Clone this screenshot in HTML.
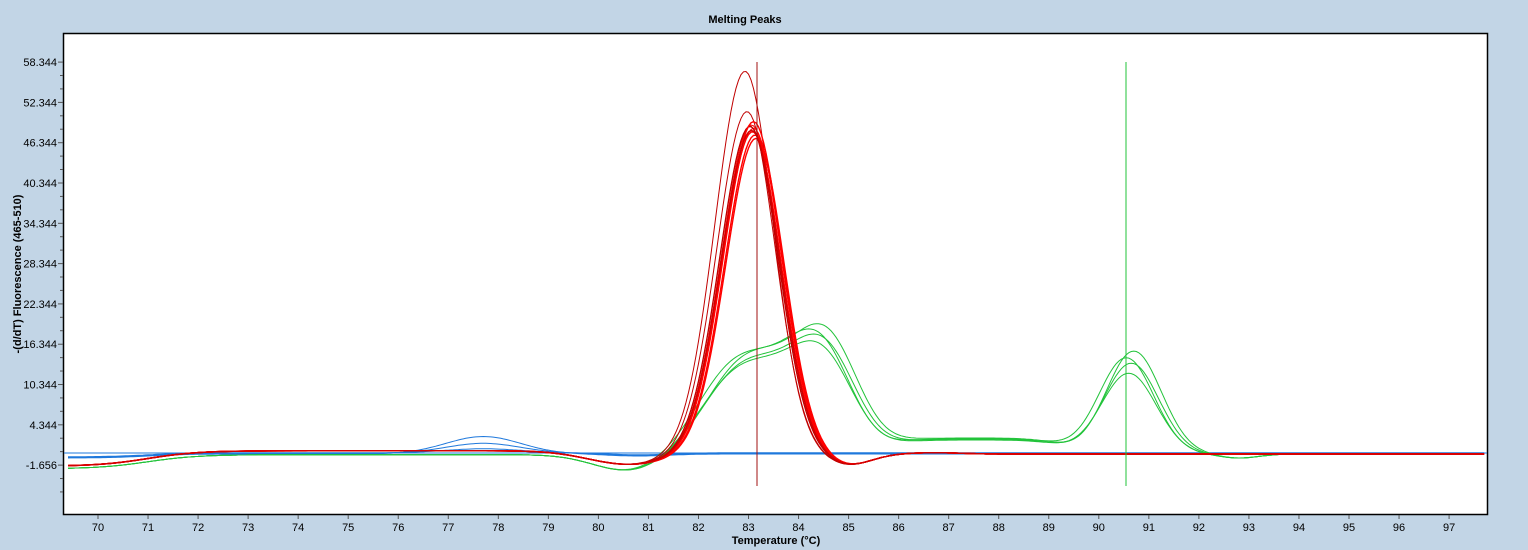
<!DOCTYPE html>
<html><head><meta charset="utf-8"><style>
html,body{margin:0;padding:0;background:#c2d5e6;}
svg{display:block;font-family:"Liberation Sans",sans-serif;}
</style></head><body>
<svg id="s" width="1528" height="550" xmlns="http://www.w3.org/2000/svg">
<rect x="0" y="0" width="1528" height="550" fill="#c2d5e6"/>
<text x="745" y="23" font-size="11" font-weight="bold" text-anchor="middle">Melting Peaks</text>
<rect x="63.5" y="33.5" width="1424" height="481" fill="#fff" stroke="#000" stroke-width="1.5"/>
<g id="ticks"></g>
<g id="curves" fill="none" stroke-width="1"></g>
<text x="776" y="544" font-size="11" font-weight="bold" text-anchor="middle">Temperature (°C)</text>
<text transform="translate(21,274) rotate(-90)" font-size="11" font-weight="bold" text-anchor="middle">-(d/dT) Fluorescence (465-510)</text>
</svg>
<script>
var NS="http://www.w3.org/2000/svg";
function X(t){return 98+(t-70)*50.04;}
function Y(v){return 454-6.717*v;}
function el(p,tag,a,txt){var e=document.createElementNS(NS,tag);for(var k in a)e.setAttribute(k,a[k]);if(txt!=null)e.textContent=txt;p.appendChild(e);return e;}
var tk=document.getElementById('ticks');
for(var i=0;i<=10;i++){var v=58.344-6*i;var y=Y(v);
 el(tk,'line',{x1:58,x2:63,y1:y,y2:y,stroke:'#555'});
 el(tk,'text',{x:57,y:y+4,'font-size':11,'text-anchor':'end'},v.toFixed(3));
 for(var j=1;j<3;j++){var yy=y+j*13.4;if(yy<514)el(tk,'line',{x1:60,x2:63,y1:yy,y2:yy,stroke:'#555'});}
}
for(var t=70;t<=97;t++){var x=X(t);el(tk,'line',{x1:x,x2:x,y1:515,y2:519,stroke:'#555'});
 el(tk,'text',{x:x,y:531,'font-size':11,'text-anchor':'middle'},t);}
var cv=document.getElementById('curves');
function g(t,c,s){return Math.exp(-Math.pow((t-c)/s,2)/2);}
function sg(z){return 1/(1+Math.exp(-z));}
function path(f,col,w){var d='';for(var t=69.4;t<=97.7;t+=0.05){d+=(d?'L':'M')+X(t).toFixed(1)+','+Y(f(t)).toFixed(1);}el(cv,'path',{d:d,stroke:col,'stroke-width':w||1});}
el(cv,'line',{x1:64,x2:1487,y1:453,y2:453,stroke:'#1e78dc'});
[[2.6,0],[1.5,0.3],[0.6,0.6]].forEach(function(p){path(function(t){return -0.6*(1-sg((t-71)/0.4))+p[1]*0.3+p[0]*g(t,77.7,0.75)-0.3*g(t,80.8,0.6);},'#1e78dc');});
var gr=[[19.5,15.5,13,2.1,0],[20.5,16,14.5,2.2,0.05],[21.2,16.8,15.3,2.3,-0.05],[22,17,16.3,2.4,0.1]];
gr.forEach(function(p){path(function(t){
 var b=-2.2+2.1*sg((t-71)/0.5);b*=(1-sg((t-81.2)/0.3));
 return b-2.4*g(t,80.6,0.7)+(p[1]-4)*g(t,82.8+p[4],0.75)+(p[0]-6)*g(t,84.5+p[4],0.62)+4*g(t,83.7+p[4],0.6)+p[3]*sg((t-85.8)/0.3)*(1-sg((t-89.3)/0.3))+(p[2]-1)*g(t,90.6+p[4],0.55)-0.6*g(t,92.8,0.4);
},'#22c33a');});
var rd=[[57,-0.07,'#c00000'],[51,-0.03,'#c00000'],[49,0.06,'#ff0000'],[48.5,0.1,'#ff0000'],[48,0.08,'#ff0000'],[47.5,0.13,'#ff0000'],[48.8,0.03,'#c00000'],[47,0.15,'#ff0000'],[49.5,0.1,'#ff0000'],[48.2,0.06,'#d00000']];
rd.forEach(function(p,i){path(function(t){
 var b=-1.8+2.3*sg((t-71)/0.5)-0.003*i;b*=(1-sg((t-81.5)/0.3));
 var c=83.0+p[1];return b-2.0*g(t,80.6,0.8)+p[0]*g(t,c,t<c?0.6:0.56)-1.6*g(t,85.0,0.45)+0.2*g(t,86.7,0.5);
},p[2],i<4?1:1.4);});
el(cv,'line',{x1:757,x2:757,y1:62,y2:486,stroke:'#a01010'});
el(cv,'line',{x1:1126,x2:1126,y1:62,y2:486,stroke:'#22c33a'});
</script>
</body></html>
